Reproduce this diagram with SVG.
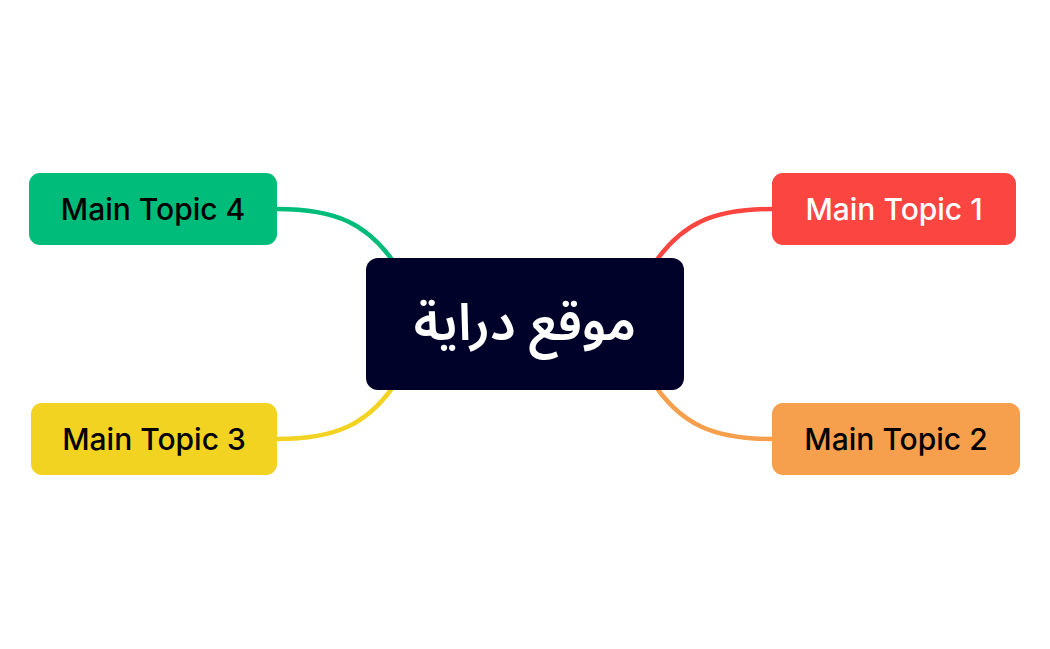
<svg xmlns="http://www.w3.org/2000/svg" width="1050" height="649" viewBox="0 0 1050 649">
<style>
.c{fill:none;stroke-width:4.5;stroke-linecap:round}
.t{font-family:Inter,"Noto Sans","Liberation Sans",sans-serif;font-size:30px;font-weight:500;text-anchor:middle;dominant-baseline:central}
</style>
<rect width="1050" height="649" fill="#ffffff"/>
<g id="connectors">
<path class="c" stroke="#FA4541" d="M772,209 C715,209 680,222 650,270"/>
<path class="c" stroke="#F6A04D" d="M772,439 C715,439 680,426 650,378"/>
<path class="c" stroke="#F3D321" d="M277,439 C334,439 369,426 399,378"/>
<path class="c" stroke="#00BC7B" d="M277,209 C334,209 369,222 399,270"/>
</g>
<g id="center">
<rect x="366" y="258" width="318" height="132" rx="12" fill="#000229"/>
<text x="525" y="324" font-family="'Noto Sans Arabic','DejaVu Sans','Noto Sans',sans-serif" font-size="51" font-weight="600" fill="#ffffff" text-anchor="middle" dominant-baseline="central">موقع دراية</text>
</g>
<g id="topic1">
<rect x="772" y="173" width="244" height="72" rx="11" fill="#FA4541"/>
<text class="t" x="894" y="209" fill="#ffffff">Main Topic 1</text>
</g>
<g id="topic2">
<rect x="772" y="403" width="248" height="72" rx="11" fill="#F6A04D"/>
<text class="t" x="896" y="439" fill="#000000">Main Topic 2</text>
</g>
<g id="topic3">
<rect x="31" y="403" width="246" height="72" rx="11" fill="#F3D321"/>
<text class="t" x="154" y="439" fill="#000000">Main Topic 3</text>
</g>
<g id="topic4">
<rect x="29" y="173" width="248" height="72" rx="11" fill="#00BC7B"/>
<text class="t" x="153" y="209" fill="#000000">Main Topic 4</text>
</g>
</svg>
